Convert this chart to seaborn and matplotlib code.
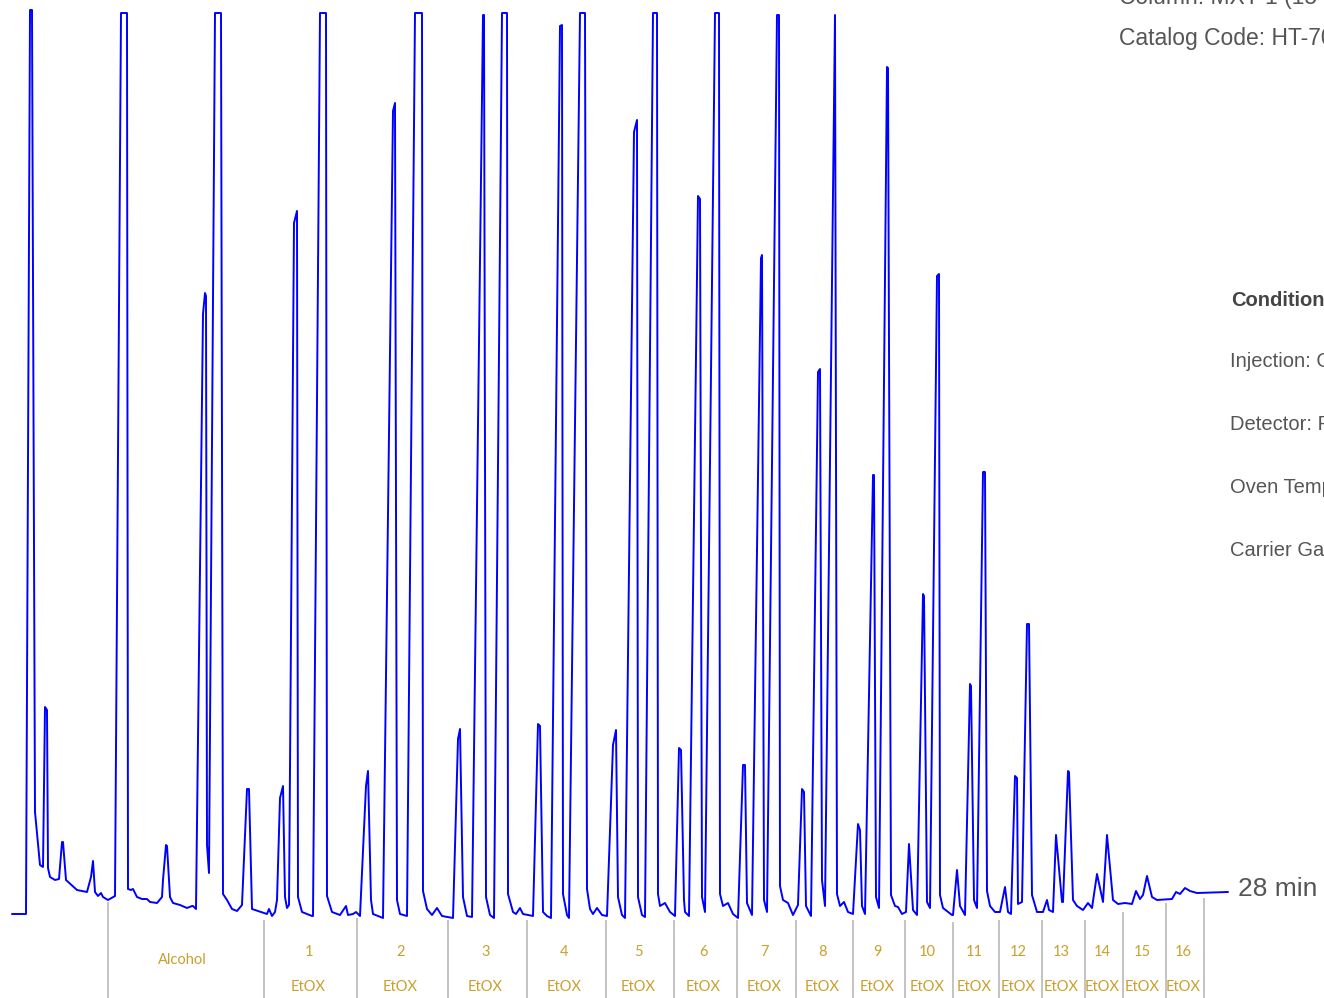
import matplotlib
matplotlib.use("Agg")
import matplotlib.pyplot as plt
import pandas as pd
import seaborn as sns

#%% datos leidos del cromatograma (tiempo en unidades de barrido, senal del detector)

tiempo = [12, 26, 30, 32, 35, 40, 43, 45, 47, 48, 50, 55, 59, 62, 63, 66, 77, 87, 91, 93,
          95, 98, 101, 103, 108, 115, 121, 127, 128, 131, 133, 137, 142, 147, 150, 157, 162, 163, 166, 167,
          170, 173, 180, 187, 192, 193, 196, 203, 205, 206, 207, 209, 215, 221, 223, 227, 232, 237, 242, 247,
          249, 252, 267, 269, 272, 275, 277, 280, 283, 285, 287, 289, 294, 297, 298, 302, 312, 313, 320, 326,
          327, 332, 340, 346, 348, 353, 356, 360, 366, 368, 371, 373, 383, 393, 395, 397, 400, 407, 415, 422,
          423, 427, 432, 437, 442, 453, 458, 460, 463, 467, 472, 483, 484, 486, 490, 494, 502, 507, 508, 513,
          516, 520, 523, 533, 538, 540, 543, 547, 551, 560, 562, 563, 567, 569, 580, 585, 587, 590, 593, 597,
          602, 607, 613, 616, 618, 622, 625, 634, 637, 638, 642, 645, 653, 657, 658, 660, 665, 670, 675, 679,
          681, 684, 685, 689, 698, 700, 702, 705, 715, 719, 720, 723, 728, 733, 738, 743, 745, 747, 752, 761,
          762, 764, 767, 777, 779, 780, 783, 788, 793, 798, 802, 804, 806, 811, 818, 820, 822, 825, 835, 837,
          840, 844, 848, 853, 858, 860, 862, 865, 873, 874, 876, 879, 887, 888, 891, 895, 898, 902, 906, 909,
          913, 917, 923, 924, 927, 930, 937, 939, 940, 943, 952, 953, 957, 960, 965, 970, 971, 974, 977, 983,
          985, 987, 990, 995, 1000, 1005, 1008, 1011, 1015, 1017, 1018, 1022, 1027, 1029, 1032, 1037, 1043, 1047, 1049, 1053,
          1056, 1062, 1063, 1068, 1069, 1073, 1077, 1083, 1088, 1092, 1097, 1103, 1107, 1113, 1118, 1125, 1132, 1136, 1140, 1143,
          1147, 1152, 1157, 1172, 1176, 1180, 1185, 1190, 1197, 1228]

senal = [6, 6, 910, 910, 108, 55, 53, 213, 210, 52, 43, 40, 41, 78, 78, 40, 30, 28, 43, 59,
         28, 24, 27, 23, 20, 24, 907, 907, 31, 30, 31, 23, 21, 21, 18, 17, 23, 40, 75, 74,
         23, 17, 15, 12, 14, 14, 11, 606, 627, 624, 75, 47, 907, 907, 26, 20, 11, 9, 15, 131,
         131, 11, 6, 11, 4, 8, 20, 122, 134, 23, 12, 15, 697, 709, 23, 8, 4, 4, 907, 907,
         24, 8, 5, 14, 5, 6, 8, 4, 134, 149, 20, 6, 2, 809, 817, 20, 6, 4, 907, 907,
         29, 11, 5, 12, 4, 2, 181, 191, 23, 4, 3, 905, 905, 23, 5, 2, 907, 907, 26, 8,
         6, 12, 6, 4, 196, 194, 8, 4, 2, 894, 895, 26, 5, 2, 907, 907, 31, 11, 6, 12,
         5, 4, 175, 190, 23, 5, 2, 788, 800, 23, 5, 3, 907, 907, 26, 14, 17, 8, 4, 172,
         170, 20, 8, 4, 724, 721, 23, 8, 907, 907, 26, 14, 17, 6, 2, 155, 155, 17, 5, 662,
         665, 20, 8, 905, 905, 34, 20, 17, 5, 15, 131, 128, 14, 4, 548, 551, 40, 14, 905, 26,
         14, 18, 8, 6, 96, 90, 14, 6, 445, 445, 23, 12, 853, 852, 25, 14, 13, 6, 8, 76,
         10, 5, 326, 324, 18, 12, 644, 646, 25, 12, 5, 5, 50, 14, 5, 236, 234, 20, 12, 448,
         448, 29, 14, 8, 8, 33, 8, 6, 144, 142, 16, 18, 296, 296, 25, 8, 8, 20, 10, 8,
         85, 18, 18, 149, 148, 20, 14, 10, 17, 12, 46, 18, 85, 20, 16, 17, 16, 29, 21, 25,
         44, 23, 20, 21, 28, 26, 32, 29, 27, 28]

# grupos: limites entre fracciones y sus etiquetas
limites = [108, 264, 357, 448, 527, 606, 674, 737, 796, 853, 905, 953, 999, 1042, 1085, 1123, 1166, 1204]
tope_limites = [18, 0, 2, 0, 0, 0, 0, 0, 0, 0, 0, -2, 0, 0, 0, 8, 17, 22]
grupos = ['Alcohol'] + [str(i) for i in range(1, 17)]

condiciones = ['Injection: On-column', 'Detector: FID', 'Oven Temp.: 100 °C to 380 °C',
               'Carrier Gas: hydrogen']

df = pd.DataFrame({'tiempo': tiempo, 'senal': senal})

#%% grafico

sns.set_theme(style='white')
plt.rcParams['font.family'] = ['Liberation Sans', 'DejaVu Sans']

fig = plt.figure(figsize=(13.24, 9.98), dpi=100)
ax = fig.add_axes([0, 0, 1, 1])

sns.lineplot(data=df, x='tiempo', y='senal', ax=ax, color='#0000ff', linewidth=1.4,
             sort=False, estimator=None)

ax.set_xlim(0, 1324)
ax.set_ylim(-78, 920)
ax.axis('off')

# separadores de fracciones
ax.vlines(limites, -80, tope_limites, color='#b3b3b3', linewidth=1.1)

dorado = '#c9a02c'
for i, g in enumerate(grupos):
    xc = (limites[i] + limites[i + 1]) / 2 - 2
    if g == 'Alcohol':
        ax.text(xc - 2, -40, g, color=dorado, fontsize=10.5, ha='center', va='center', family='Lato')
    else:
        ax.text(xc, -32, g, color=dorado, fontsize=10.5, ha='center', va='center', family='Lato')
        ax.text(xc, -67, 'EtOX', color=dorado, fontsize=10.5, ha='center', va='center', family='Lato')

ax.text(1238, 31, '28 min', color='#555555', fontsize=19, ha='left', va='center')

# textos de la derecha (recortados por el borde, como en el original)
gris = '#555555'
ax.text(1119, 923, 'Column: MXT-1 (15 m, 0.25 mm ID)', color=gris, fontsize=16.5, ha='left', va='center')
ax.text(1119, 882, 'Catalog Code: HT-70116', color=gris, fontsize=16.5, ha='left', va='center')
ax.text(1231, 620, 'Conditions', color='#444444', fontsize=14.5, fontweight='bold', ha='left', va='center')
for k, c in enumerate(condiciones):
    ax.text(1230, 559 - 63 * k, c, color=gris, fontsize=14.5, ha='left', va='center')

fig.savefig('out.png', dpi=100)
